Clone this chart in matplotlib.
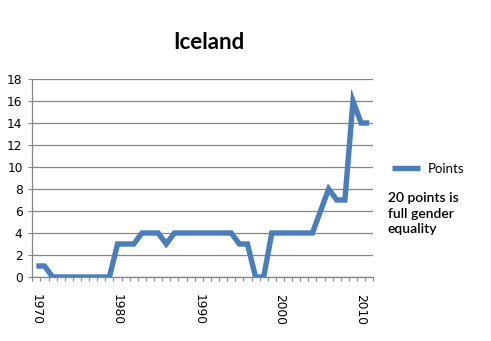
import numpy as np
import matplotlib
matplotlib.use('Agg')
import matplotlib.pyplot as plt
from matplotlib.ticker import MultipleLocator, FixedLocator

years = list(range(1970, 2012))
points = [1, 1, 0, 0, 0, 0, 0, 0, 0, 0,
          3, 3, 3, 4, 4, 4, 3, 4, 4, 4,
          4, 4, 4, 4, 4, 3, 3, 0, 0, 4,
          4, 4, 4, 4, 4, 6, 8, 7, 7, 16,
          14, 14]
year_labels = ['1970', '1980', '1990', '2000', '2010']
note = '20 points is\nfull gender\nequality'

line_color = '#4a7ebb'
grid_color = '#868686'

fig = plt.figure(figsize=(4.91, 3.41), dpi=100)
ax = fig.add_axes([32.3 / 491, 1 - 277 / 341, 341 / 491, 198 / 341])

x = np.arange(len(years))
ax.plot(x, points, color=line_color, lw=3.9, solid_joinstyle='miter',
        solid_capstyle='butt', label='Points', zorder=3)

ax.set_xlim(-0.5, len(years) - 0.5)
ax.set_ylim(0, 18)
ax.yaxis.set_major_locator(MultipleLocator(2))
ax.grid(axis='y', color=grid_color, lw=0.9)
ax.set_axisbelow(True)

for s in ['top', 'right']:
    ax.spines[s].set_visible(False)
for s in ['left', 'bottom']:
    ax.spines[s].set_color(grid_color)
    ax.spines[s].set_linewidth(0.9)

label_pos = [years.index(int(y)) for y in year_labels]
ax.set_xticks(label_pos)
ax.set_xticklabels(year_labels, rotation=-90, fontsize=8.8, va='top', ha='center')
ax.xaxis.set_minor_locator(FixedLocator(np.arange(len(years) + 1) - 0.5))
ax.tick_params(axis='x', which='major', length=0, pad=12)
ax.tick_params(axis='x', which='minor', length=3, color=grid_color, width=0.8)
ax.tick_params(axis='y', length=3, color=grid_color, width=0.8, pad=4, labelsize=8.7)

fig.text(209 / 491, 1 - 42.5 / 341, 'Iceland', family='Lato', weight='bold',
         fontsize=16, ha='center', va='center')

leg = fig.legend(loc='center left', bbox_to_anchor=(392 / 491, 1 - 169 / 341),
                 frameon=False, handlelength=2.1, handletextpad=0.6,
                 borderpad=0, borderaxespad=0,
                 prop={'family': 'Lato', 'size': 9.5})

fig.text(388 / 491, 1 - 213.5 / 341, note, family='Lato', weight='semibold',
         fontsize=10, ha='left', va='center', linespacing=1.35)

fig.savefig('out.png', dpi=100)
